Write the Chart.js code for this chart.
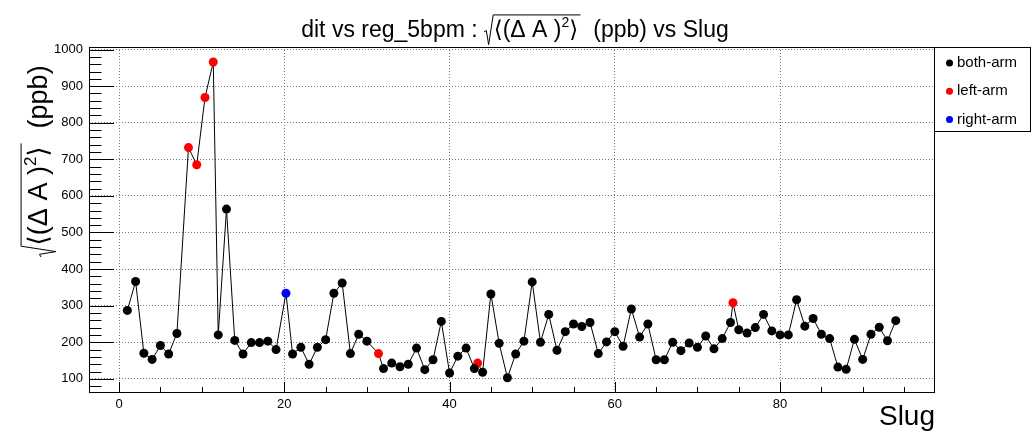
<!DOCTYPE html>
<html>
<head>
<meta charset="utf-8">
<script src="https://cdn.jsdelivr.net/npm/chart.js@4.4.0/dist/chart.umd.min.js"></script>
<style>
  body { margin: 0; background: #fff; }
  #wrap { width: 1031px; height: 431px; }
</style>
</head>
<body>
<div id="wrap"><canvas id="chart" width="1031" height="431"></canvas></div>
<script>
// slugs and sqrt(<dA^2>) in ppb
const bothSlugs = [1, 2, 3, 4, 5, 6, 7,
  12, 13, 14, 15, 16, 17, 18, 19,
  21, 22, 23, 24, 25, 26, 27, 28, 29, 30,
  32, 33, 34, 35, 36, 37, 38, 39, 40, 41,
  42, 43, 44, 45, 46, 47, 48, 49, 50, 51,
  52, 53, 54, 55, 56, 57, 58, 59, 60, 61,
  62, 63, 64, 65, 66, 67, 68, 69, 70, 71,
  72, 73, 74, 75, 76, 77, 78, 79, 80, 81,
  82, 83, 84, 85, 86, 87, 88, 89, 90, 91,
  92, 93, 94]
const bothValues = [287, 366, 170, 153, 191, 168, 224,
  220, 564, 205, 168, 199, 199, 203, 180,
  168, 186, 140, 186, 207, 334, 362, 169, 222, 203,
  128, 143, 133, 140, 184, 125, 152, 257, 116, 162,
  184, 128, 118, 332, 197, 103, 168, 203, 365, 200,
  276, 178, 229, 250, 243, 254, 169, 201, 229, 189,
  291, 214, 250, 152, 152, 200, 177, 198, 186, 217,
  182, 210, 254, 234, 225, 240, 276, 231, 220, 220,
  316, 244, 265, 222, 210, 132, 126, 208, 153, 222,
  241, 204, 259]

const leftSlugs = [8.4, 9.4, 10.4, 11.4, 31.4, 43.4, 74.3]
const leftValues = [732, 685, 869, 966, 169, 143, 308]

const rightSlugs = [20.2]
const rightValues = [334]

const xTicks = [0, 20, 40, 60, 80]
const yTicks = [100, 200, 300, 400, 500, 600, 700, 800, 900, 1000]

const FONT = '"Liberation Sans", "DejaVu Sans", sans-serif'

function toPoints(xs, ys) {
    return xs.map((x, i) => ({ x: x, y: ys[i] }))
}

// one line through every point, in slug order
const allPoints = toPoints(bothSlugs, bothValues)
    .concat(toPoints(leftSlugs, leftValues))
    .concat(toPoints(rightSlugs, rightValues))
    .sort((a, b) => a.x - b.x)

// draws  pre + sqrt(<(Δ A )^2>) + post  starting at x on baseline y, returns width
function drawSqrtText(ctx, x, y, size, pre, post, doDraw) {
    const big = size + 'px ' + FONT
    const small = Math.round(size * 0.62) + 'px ' + FONT
    let cx = x
    ctx.font = big
    if (doDraw) ctx.fillText(pre, cx, y)
    cx += ctx.measureText(pre).width
    const rx = cx
    const rw = size * 0.42
    cx += rw
    ctx.font = big
    const a = '\u27E8(\u0394 A )'
    if (doDraw) ctx.fillText(a, cx, y)
    cx += ctx.measureText(a).width
    ctx.font = small
    if (doDraw) ctx.fillText('2', cx, y - size * 0.42)
    cx += ctx.measureText('2').width
    ctx.font = big
    if (doDraw) ctx.fillText('\u27E9', cx, y)
    cx += ctx.measureText('\u27E9').width
    const innerEnd = cx + size * 0.1
    if (doDraw) {
        ctx.beginPath()
        ctx.moveTo(rx, y - size * 0.22)
        ctx.lineTo(rx + size * 0.1, y - size * 0.28)
        ctx.lineTo(rx + size * 0.2, y + size * 0.33)
        ctx.lineTo(rx + size * 0.4, y - size * 0.96)
        ctx.lineTo(innerEnd, y - size * 0.96)
        ctx.stroke()
    }
    cx = innerEnd
    ctx.font = big
    if (doDraw) ctx.fillText(post, cx, y)
    cx += ctx.measureText(post).width
    return cx - x
}

const rootLook = {
    id: 'rootLook',
    afterDraw(chart) {
        const ctx = chart.ctx
        const area = chart.chartArea
        const xs = chart.scales.x
        const ys = chart.scales.y
        ctx.save()
        ctx.strokeStyle = '#000'
        ctx.fillStyle = '#000'
        ctx.lineWidth = 1

        // frame
        ctx.strokeRect(area.left + 0.5, area.top + 0.5, area.right - area.left, area.bottom - area.top)

        // x ticks (inside)
        ctx.beginPath()
        for (let v = -5; v <= 100; v += 5) {
            if (v < xs.min || v > xs.max) continue
            const px = Math.round(xs.getPixelForValue(v)) + 0.5
            const len = v % 20 === 0 ? 10 : 5
            ctx.moveTo(px, area.bottom)
            ctx.lineTo(px, area.bottom - len)
        }
        // y ticks (inside)
        for (let v = 0; v <= 1020; v += 20) {
            if (v < ys.min || v > ys.max) continue
            const py = Math.round(ys.getPixelForValue(v)) + 0.5
            const len = v % 100 === 0 ? 25 : 12.5
            ctx.moveTo(area.left, py)
            ctx.lineTo(area.left + len, py)
        }
        ctx.stroke()

        // title
        ctx.textBaseline = 'alphabetic'
        ctx.textAlign = 'left'
        ctx.lineWidth = 1
        const tw = drawSqrtText(ctx, 0, 0, 23, 'dit vs reg_5bpm : ', '  (ppb) vs Slug', false)
        drawSqrtText(ctx, 515 - tw / 2, 37, 23, 'dit vs reg_5bpm : ', '  (ppb) vs Slug', true)

        // y title, rotated, ending near the top of the axis
        ctx.save()
        ctx.translate(47, 257)
        ctx.rotate(-Math.PI / 2)
        drawSqrtText(ctx, 0, 0, 27, '', '  (ppb)', true)
        ctx.restore()

        // x title
        ctx.font = '28px ' + FONT
        ctx.textAlign = 'right'
        ctx.fillText('Slug', area.right + 1, 425)

        // legend box
        const lx = area.right + 0.5
        const ly = area.top + 0.5
        ctx.fillStyle = '#fff'
        ctx.fillRect(lx, ly, 96, 84)
        ctx.strokeStyle = '#000'
        ctx.strokeRect(lx, ly, 96, 84)
        ctx.font = '15px ' + FONT
        ctx.textAlign = 'left'
        ctx.textBaseline = 'middle'
        const entries = chart.data.datasets.filter(d => d.label)
        entries.forEach((d, i) => {
            const ey = 63 + i * 28.3
            ctx.fillStyle = d.pointBackgroundColor
            ctx.beginPath()
            ctx.arc(949.5, ey, 3.5, 0, Math.PI * 2)
            ctx.fill()
            ctx.fillStyle = '#000'
            ctx.fillText(d.label, 957, ey)
        })
        ctx.restore()
    }
}

function markerSet(label, color, xs, ys) {
    return {
        label: label,
        data: toPoints(xs, ys),
        showLine: false,
        pointRadius: 4.5,
        pointHoverRadius: 4.5,
        pointBorderWidth: 0,
        pointBackgroundColor: color,
        borderColor: color,
        order: 1
    }
}

document.addEventListener('DOMContentLoaded', function () {
    const tickFont = { family: FONT, size: 13 }

    const config = {
        type: 'scatter',
        data: {
            datasets: [
                {
                    data: allPoints,
                    showLine: true,
                    borderColor: '#000',
                    borderWidth: 1,
                    pointRadius: 0,
                    tension: 0,
                    order: 5
                },
                markerSet('both-arm', '#000000', bothSlugs, bothValues),
                markerSet('left-arm', '#ff0000', leftSlugs, leftValues),
                markerSet('right-arm', '#0000ff', rightSlugs, rightValues)
            ]
        },
        options: {
            responsive: false,
            animation: false,
            layout: { padding: { top: 47, right: 97, bottom: 0, left: 0 } },
            plugins: {
                legend: { display: false },
                tooltip: { enabled: false },
                title: { display: false }
            },
            scales: {
                x: {
                    type: 'linear',
                    min: -3.64,
                    max: 98.63,
                    afterBuildTicks: s => { s.ticks = xTicks.map(v => ({ value: v })) },
                    afterFit: s => { s.height = 39 },
                    grid: { color: '#777', lineWidth: 1, drawTicks: false },
                    border: { display: false, dash: [1, 2] },
                    ticks: { color: '#000', font: tickFont, padding: 5, maxRotation: 0, callback: v => String(v) }
                },
                y: {
                    type: 'linear',
                    min: 64,
                    max: 1007,
                    afterBuildTicks: s => { s.ticks = yTicks.map(v => ({ value: v })) },
                    afterFit: s => { s.width = 89 },
                    grid: { color: '#777', lineWidth: 1, drawTicks: false },
                    border: { display: false, dash: [1, 2] },
                    ticks: { color: '#000', font: tickFont, padding: 6, callback: v => String(v) }
                }
            }
        },
        plugins: [rootLook]
    }

    const ctx = document.getElementById('chart').getContext('2d')
    new Chart(ctx, config)
})
</script>
</body>
</html>
